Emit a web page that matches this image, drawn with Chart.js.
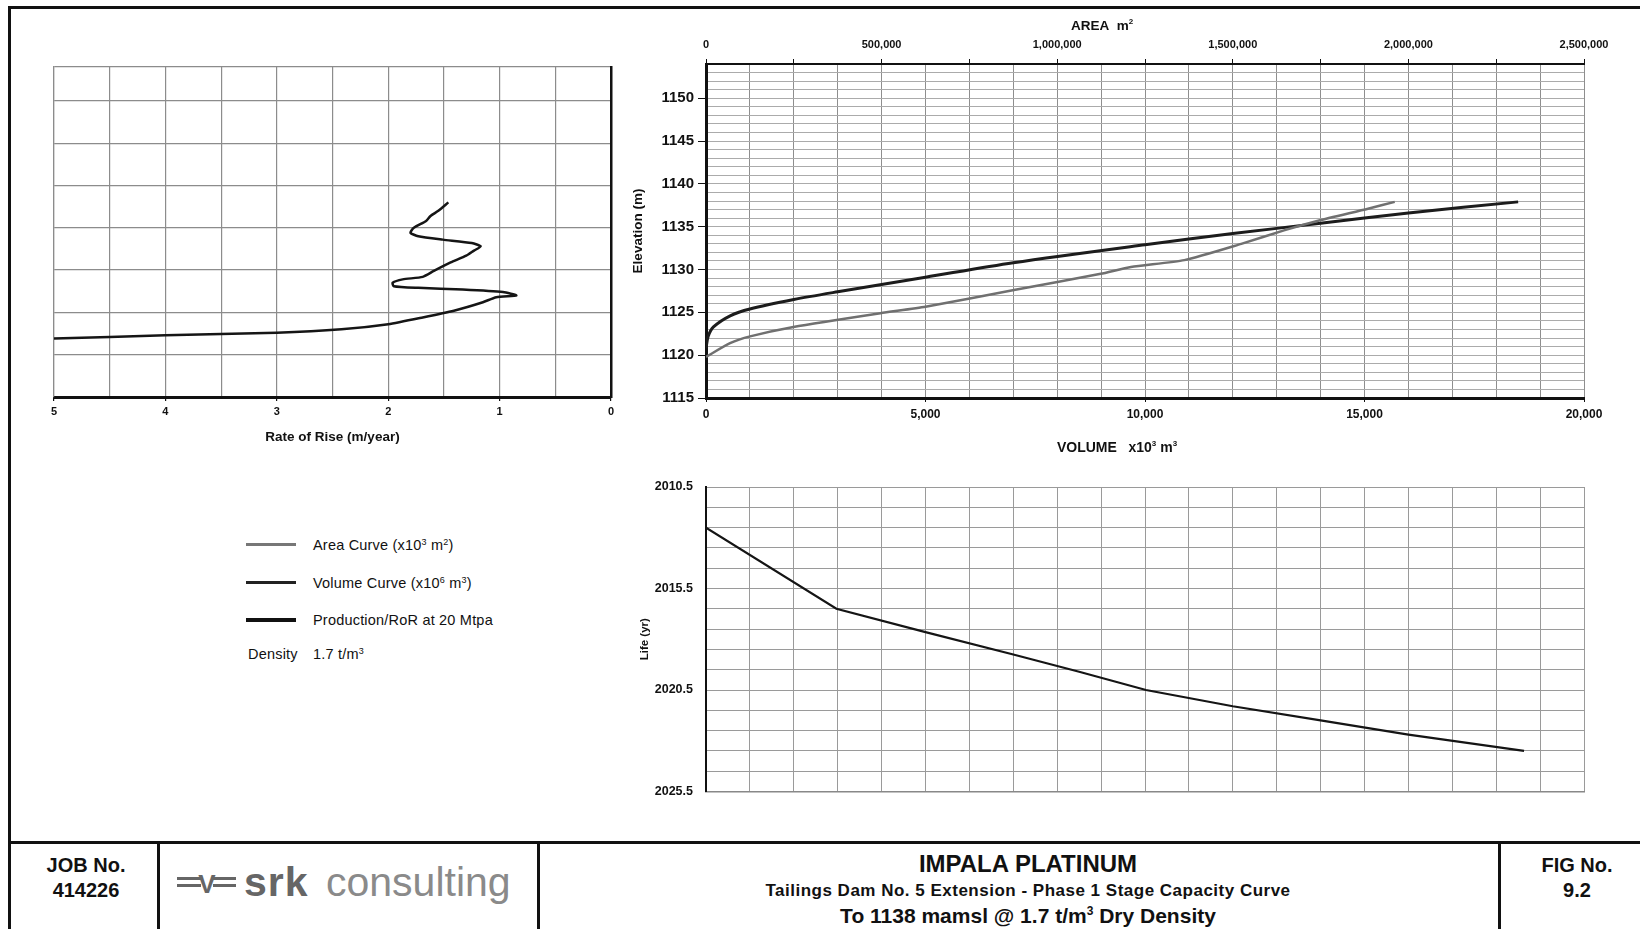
<!DOCTYPE html>
<html>
<head>
<meta charset="utf-8">
<script src="https://cdn.jsdelivr.net/npm/chart.js@4.4.1/dist/chart.umd.min.js"></script>
<style>
  body { margin: 0; background: #fff; }
  #page { position: relative; width: 1640px; height: 929px; overflow: hidden; background: #fff;
          font-family: 'Liberation Sans', Arial, sans-serif; color: #111; }
  .box { position: absolute; }
  .ln { position: absolute; background: #111; }
  .t { position: absolute; transform: translate(-50%, -50%); white-space: nowrap; }
  .lt { position: absolute; transform: translateY(-50%); white-space: nowrap; font-size: 14.5px; letter-spacing: 0.2px; }
  .key { position: absolute; height: 3px; }
</style>
</head>
<body>
<div id="page">
  <!-- sheet frame -->
  <div class="ln" style="left:8px;top:6px;width:1632px;height:3px"></div>
  <div class="ln" style="left:8px;top:6px;width:3px;height:923px"></div>

  <div class="box" style="left:0;top:0;width:640px;height:460px"><canvas id="riseChart"></canvas></div>
  <div class="box" style="left:600px;top:0;width:1040px;height:470px"><canvas id="capacityChart"></canvas></div>
  <div class="box" style="left:600px;top:455px;width:1040px;height:357px"><canvas id="lifeChart"></canvas></div>

  <div class="t" style="left:1102px;top:25px;font-size:13.5px;font-weight:bold">AREA&nbsp;&nbsp;m<sup style="font-size:8px">2</sup></div>
  <div class="t" style="left:1117px;top:447px;font-size:14px;font-weight:bold">VOLUME&nbsp;&nbsp;&nbsp;x10<sup style="font-size:8px">3</sup> m<sup style="font-size:8px">3</sup></div>

  <!-- legend -->
  <div class="key" style="left:246px;top:543px;width:50px;background:#777"></div>
  <div class="lt" style="left:313px;top:545px">Area Curve (x10<sup style="font-size:9px">3</sup> m<sup style="font-size:9px">2</sup>)</div>
  <div class="key" style="left:246px;top:581px;width:50px;background:#222"></div>
  <div class="lt" style="left:313px;top:583px">Volume Curve (x10<sup style="font-size:9px">6</sup> m<sup style="font-size:9px">3</sup>)</div>
  <div class="key" style="left:246px;top:618px;width:50px;height:4px;background:#111"></div>
  <div class="lt" style="left:313px;top:620px">Production/RoR at 20 Mtpa</div>
  <div class="lt" style="left:248px;top:654px">Density</div>
  <div class="lt" style="left:313px;top:654px">1.7 t/m<sup style="font-size:9px">3</sup></div>

  <!-- title block -->
  <div class="ln" style="left:8px;top:841px;width:1632px;height:3px"></div>
  <div class="ln" style="left:157px;top:842px;width:3px;height:87px"></div>
  <div class="ln" style="left:537px;top:842px;width:3px;height:87px"></div>
  <div class="ln" style="left:1498px;top:842px;width:3px;height:87px"></div>

  <div class="t" style="left:86px;top:865px;font-size:20px;font-weight:bold">JOB No.</div>
  <div class="t" style="left:86px;top:890px;font-size:20px;font-weight:bold">414226</div>

  <div class="ln" style="left:177px;top:877px;width:24px;height:3px;background:#666"></div>
  <div class="ln" style="left:177px;top:884px;width:24px;height:3px;background:#666"></div>
  <div class="ln" style="left:213px;top:877px;width:23px;height:3px;background:#666"></div>
  <div class="ln" style="left:213px;top:884px;width:23px;height:3px;background:#666"></div>
  <div class="t" style="left:207px;top:884px;font-size:26px;font-weight:bold;color:#666">V</div>
  <div class="lt" style="left:244px;top:882px;font-size:41px;font-weight:bold;color:#666;letter-spacing:1px">srk</div>
  <div class="lt" style="left:326px;top:882px;font-size:41px;color:#8a8a8a;letter-spacing:0">consulting</div>

  <div class="t" style="left:1028px;top:864px;font-size:24px;font-weight:bold">IMPALA PLATINUM</div>
  <div class="t" style="left:1028px;top:891px;font-size:17px;font-weight:bold;letter-spacing:0.5px">Tailings Dam No. 5 Extension - Phase 1 Stage Capacity Curve</div>
  <div class="t" style="left:1028px;top:916px;font-size:21px;font-weight:bold">To 1138 mamsl @ 1.7 t/m<sup style="font-size:12px">3</sup> Dry Density</div>

  <div class="t" style="left:1577px;top:865px;font-size:20px;font-weight:bold">FIG No.</div>
  <div class="t" style="left:1577px;top:890px;font-size:20px;font-weight:bold">9.2</div>
</div>

<script>
// rate of rise (m/year) against elevation (m)
const riseRate = [5.0, 4.0, 3.0, 2.42, 2.0, 1.69, 1.41, 1.15, 1.03, 0.85, 0.97, 1.33, 1.73, 1.95, 1.96, 1.87, 1.69, 1.59, 1.44, 1.30, 1.23, 1.17, 1.25, 1.51, 1.73, 1.80, 1.77, 1.66, 1.62, 1.55, 1.46];
const riseElev = [1121.9, 1122.3, 1122.6, 1123.0, 1123.6, 1124.4, 1125.2, 1126.2, 1126.8, 1127.0, 1127.4, 1127.7, 1127.9, 1128.1, 1128.5, 1128.9, 1129.2, 1129.9, 1130.9, 1131.7, 1132.3, 1132.8, 1133.2, 1133.6, 1134.0, 1134.4, 1135.0, 1135.8, 1136.4, 1137.0, 1138.0];

// volume curve (x10^3 m3) against elevation
const volValues = [0, 50, 170, 550, 1000, 2000, 3000, 5000, 7000, 10000, 12000, 14000, 16000, 18500];
const volElev = [1120.8, 1122.2, 1123.3, 1124.6, 1125.4, 1126.5, 1127.4, 1129.1, 1130.8, 1132.9, 1134.2, 1135.4, 1136.6, 1137.9];

// area curve (m2) against elevation
const areaValues = [0, 68500, 125600, 249000, 496600, 625000, 877000, 1124000, 1210000, 1362000, 1524000, 1648000, 1743000, 1885000, 1961000];
const areaElev = [1119.8, 1121.4, 1122.2, 1123.3, 1124.9, 1125.65, 1127.6, 1129.5, 1130.3, 1131.1, 1133.0, 1134.6, 1135.7, 1137.1, 1137.9];

// life (yr) against volume
const lifeVol = [0, 2970, 5000, 7000, 8500, 10022, 12000, 14000, 16000, 18634];
const lifeYear = [2012.5, 2016.5, 2017.65, 2018.75, 2019.6, 2020.5, 2021.3, 2022.0, 2022.7, 2023.5];
const lifeLabels = [2010.5, 2015.5, 2020.5, 2025.5];

function pts(xs, ys) {
    return xs.map((x, i) => ({ x: x, y: ys[i] }));
}

Chart.defaults.font.family = "'Liberation Sans', Arial, sans-serif";
Chart.defaults.color = '#111';
Chart.defaults.animation = false;
Chart.defaults.plugins.legend.display = false;
Chart.defaults.plugins.tooltip.enabled = false;

const grafico1 = document.getElementById('riseChart');

new Chart(grafico1, {
    type: 'scatter',
    data: {
        datasets: [{
            data: pts(riseRate, riseElev),
            showLine: true,
            borderColor: '#151515',
            borderWidth: 2.5,
            pointRadius: 0,
            tension: 0.2
        }]
    },
    options: {
        responsive: true,
        maintainAspectRatio: false,
        layout: { padding: { left: 54, right: 29, top: 67, bottom: 0 } },
        scales: {
            x: {
                type: 'linear',
                reverse: true,
                min: 0,
                max: 5,
                ticks: {
                    stepSize: 0.5,
                    autoSkip: false,
                    maxRotation: 0,
                    padding: 4,
                    font: { size: 11, weight: 'bold' },
                    callback: v => Number.isInteger(v) ? v : ''
                },
                grid: {
                    color: '#8c8c8c',
                    lineWidth: 1.2,
                    tickLength: 4,
                    tickColor: c => Number.isInteger(c.tick.value) ? '#111' : 'rgba(0,0,0,0)'
                },
                border: { color: '#111', width: 3 },
                title: {
                    display: true,
                    text: 'Rate of Rise (m/year)',
                    font: { size: 13.5, weight: 'bold' },
                    padding: { top: 0, bottom: 15 }
                },
                afterFit: s => { s.height = 63; }
            },
            y: {
                min: 1115,
                max: 1154,
                ticks: { display: false, stepSize: 5 },
                grid: { color: '#8c8c8c', lineWidth: 1.2, drawTicks: false },
                border: { color: '#8c8c8c', width: 1.2 },
                afterFit: s => { s.width = 0; }
            },
            yr: {
                position: 'right',
                min: 1115,
                max: 1154,
                ticks: { display: false },
                grid: { drawOnChartArea: false, drawTicks: false },
                border: { color: '#111', width: 2.5 },
                afterFit: s => { s.width = 0; }
            }
        }
    }
});

const grafico2 = document.getElementById('capacityChart');

new Chart(grafico2, {
    type: 'scatter',
    data: {
        datasets: [{
            label: 'Area Curve',
            data: pts(areaValues, areaElev),
            xAxisID: 'x2',
            showLine: true,
            borderColor: '#707070',
            borderWidth: 2.5,
            pointRadius: 0,
            tension: 0.2
        },
        {
            label: 'Volume Curve',
            data: pts(volValues, volElev),
            xAxisID: 'x',
            showLine: true,
            borderColor: '#1c1c1c',
            borderWidth: 3,
            pointRadius: 0,
            tension: 0.3
        }]
    },
    options: {
        responsive: true,
        maintainAspectRatio: false,
        layout: { padding: { left: 0, right: 56, top: 0, bottom: 0 } },
        scales: {
            x: {
                type: 'linear',
                position: 'bottom',
                min: 0,
                max: 20000,
                ticks: {
                    stepSize: 1000,
                    autoSkip: false,
                    maxRotation: 0,
                    padding: 5,
                    font: { size: 12, weight: 'bold' },
                    callback: v => v % 5000 === 0 ? v.toLocaleString('en-US') : ''
                },
                grid: {
                    color: '#8e8e8e',
                    lineWidth: 1,
                    tickLength: 4,
                    tickColor: c => c.tick.value % 5000 === 0 ? '#111' : 'rgba(0,0,0,0)'
                },
                border: { color: '#111', width: 3 },
                afterFit: s => { s.height = 72; }
            },
            x2: {
                type: 'linear',
                position: 'top',
                min: 0,
                max: 2500000,
                ticks: {
                    stepSize: 250000,
                    autoSkip: false,
                    maxRotation: 0,
                    padding: 7,
                    font: { size: 11, weight: 'bold' },
                    callback: v => v % 500000 === 0 ? v.toLocaleString('en-US') : ''
                },
                grid: { drawOnChartArea: false, tickLength: 5, color: '#111' },
                border: { color: '#111', width: 2 },
                afterFit: s => { s.height = 64; }
            },
            y: {
                min: 1115,
                max: 1154,
                ticks: {
                    stepSize: 1,
                    autoSkip: false,
                    padding: 4,
                    font: { size: 15, weight: 'bold' },
                    callback: v => v % 5 === 0 ? v : ''
                },
                grid: {
                    color: '#ababab',
                    lineWidth: 1,
                    tickLength: 8,
                    tickColor: c => c.tick.value % 5 === 0 ? '#111' : 'rgba(0,0,0,0)'
                },
                border: { color: '#111', width: 3 },
                title: {
                    display: true,
                    text: 'Elevation (m)',
                    font: { size: 13.5, weight: 'bold' },
                    padding: { top: 30, bottom: 0 }
                },
                afterFit: s => { s.width = 106; }
            }
        }
    }
});

const grafico3 = document.getElementById('lifeChart');

new Chart(grafico3, {
    type: 'scatter',
    data: {
        datasets: [{
            label: 'Life',
            data: pts(lifeVol, lifeYear),
            showLine: true,
            borderColor: '#151515',
            borderWidth: 2.2,
            pointRadius: 0,
            tension: 0
        }]
    },
    options: {
        responsive: true,
        maintainAspectRatio: false,
        layout: { padding: { left: 0, right: 56, top: 32, bottom: 0 } },
        scales: {
            x: {
                type: 'linear',
                min: 0,
                max: 20000,
                ticks: { display: false, stepSize: 1000, autoSkip: false },
                grid: { color: '#9a9a9a', drawTicks: false },
                border: { color: '#888', width: 1.5 },
                afterFit: s => { s.height = 10; }
            },
            y: {
                reverse: true,
                min: 2010.5,
                max: 2025.5,
                ticks: {
                    stepSize: 1,
                    autoSkip: false,
                    padding: 13,
                    font: { size: 12.5, weight: 'bold' },
                    callback: v => lifeLabels.includes(v) ? v.toFixed(1) : ''
                },
                grid: { color: '#9a9a9a', drawTicks: false },
                border: { color: '#111', width: 2 },
                title: {
                    display: true,
                    text: 'Life (yr)',
                    font: { size: 11.5, weight: 'bold' },
                    padding: { top: 38, bottom: 0 }
                },
                afterFit: s => { s.width = 106; }
            }
        }
    }
});
</script>
</body>
</html>
